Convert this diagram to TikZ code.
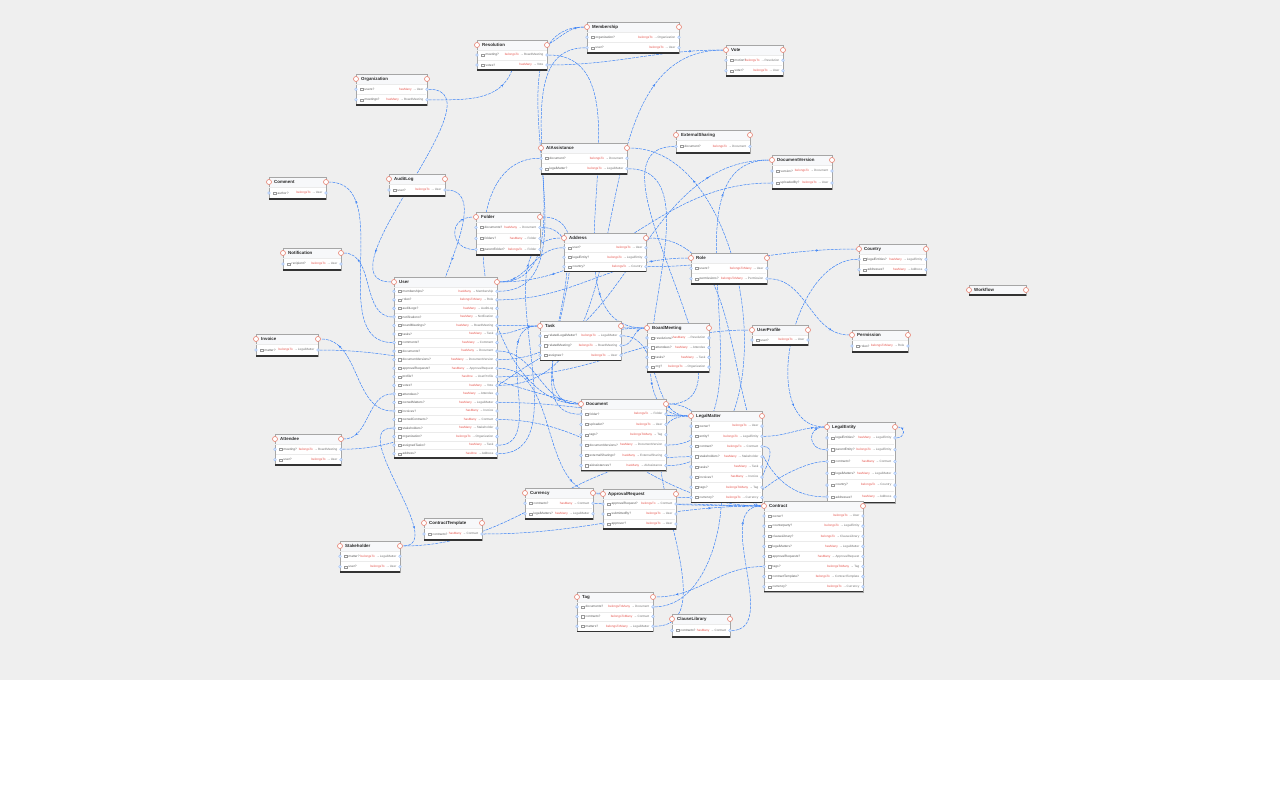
\documentclass[tikz,border=0pt]{standalone}
\usepackage{fontspec}
\setmainfont{Liberation Sans}
\usetikzlibrary{arrows.meta,decorations.markings}
\definecolor{bgray}{HTML}{EFEFEF}
\definecolor{edgeblue}{HTML}{3B82F6}
\definecolor{kindred}{HTML}{E5534B}
\definecolor{portred}{HTML}{E8806F}
\definecolor{headfill}{HTML}{F7F8FA}
\pgfdeclarelayer{bg}\pgfdeclarelayer{edges}
\pgfsetlayers{bg,edges,main}
\tikzset{
 tport/.style={circle,draw=portred,fill=white,line width=0.6pt,inner sep=0pt,minimum size=5pt},
 fport/.style={circle,draw=edgeblue!55,fill=edgeblue!12,line width=0.4pt,inner sep=0pt,minimum size=2.8pt},
 sepl/.style={draw=black!8,line width=0.3pt},
 chk/.style={draw=black!40,line width=0.25pt},
 ftext/.style={font=\fontsize{3.2}{3.6}\selectfont,text=black!65,inner sep=0pt},
 ttext/.style={font=\fontsize{3.1}{3.6}\selectfont,text=black!55,inner sep=0pt},
 ttl/.style={font=\fontsize{4.4}{5}\selectfont\bfseries,text=black!85,inner sep=0pt},
 boxline/.style={draw=black!35,line width=0.5pt},
 botline/.style={draw=black!80,line width=1.1pt},
 rel/.style={draw=edgeblue,line width=0.5pt,dash pattern=on 3pt off 1pt,
   postaction={decorate},decoration={markings,mark=at position 0.82 with {\arrow[solid]{Stealth[length=2.6pt,width=2.4pt]}}}},
 RL/.style={out=0,in=180},RR/.style={out=0,in=0},LL/.style={out=180,in=180},LR/.style={out=180,in=0},
}
% #1 id, #2 x, #3 y, #4 w, #5 n rows, #6 row height, #7 rows
\newcommand{\ent}[7]{%
 \pgfmathsetmacro{\eH}{10+#5*#6}%
 \fill[white] (#2,#3) rectangle ++(#4,\eH);%
 \fill[headfill] (#2,#3) rectangle ++(#4,10);%
 \draw[boxline] (#2,#3) rectangle ++(#4,\eH);%
 \draw[sepl] ({#2},{#3+10}) -- ++(#4,0);%
 \ifnum#5>0
 \foreach \ef/\ek/\et [count=\ei] in {#7} {%
   \pgfmathsetmacro{\ry}{#3+10+(\ei-0.5)*#6}%
   \ifnum\ei>1 \draw[sepl] ({#2+1},{\ry-#6/2}) -- ++({#4-2},0);\fi
   \node[fport] (#1-\ei-L) at ({#2},{\ry}) {};%
   \node[fport] (#1-\ei-R) at ({#2+#4},{\ry}) {};%
   \draw[chk] ({#2+4.5},{\ry-1.1}) rectangle ++(2.2,2.2);%
   \node[ftext,anchor=west] at ({#2+8.5},{\ry}) {\ef};%
   \node[ttext,anchor=east] at ({#2+#4-3.5},{\ry}) {\textcolor{kindred}{\ek}\hspace{1.5pt}→\,\et};%
 }%
 \fi
 \draw[botline] ({#2},{#3+\eH}) -- ++(#4,0);%
 \node[tport] (#1-L) at ({#2},{#3+5}) {};%
 \node[tport] (#1-R) at ({#2+#4},{#3+5}) {};%
 \node[ttl,anchor=west] at ({#2+5},{#3+5}) {#1};%
 \coordinate (#1-B) at ({#2+#4/2},{#3+\eH});%
 \coordinate (#1-N) at ({#2+#4/2},{#3});%
}
\begin{document}
\begin{tikzpicture}[x=1pt,y=-1pt]
\useasboundingbox (0,0) rectangle (1280,800);
\begin{pgfonlayer}{bg}
\fill[white] (0,0) rectangle (1280,800);
\fill[bgray] (0,0) rectangle (1280,680);
\end{pgfonlayer}

\ent{Organization}{356}{74}{71}{2}{10.5}{users?/hasMany/User, meetings?/hasMany/BoardMeeting}
\ent{Resolution}{477}{40}{70}{2}{10}{meeting?/belongsTo/BoardMeeting, votes?/hasMany/Vote}
\ent{Membership}{587}{22}{92}{2}{10.5}{organization?/belongsTo/Organization, user?/belongsTo/User}
\ent{Vote}{726}{45}{57}{2}{10.5}{motion?/belongsTo/Resolution, voter?/belongsTo/User}
\ent{Comment}{269}{177}{57}{1}{12}{author?/belongsTo/User}
\ent{AuditLog}{389}{174}{56}{1}{12}{user?/belongsTo/User}
\ent{Notification}{283}{248}{58}{1}{12}{recipient?/belongsTo/User}
\ent{AIAssistance}{541}{143}{86}{2}{10.5}{document?/belongsTo/Document, legalMatter?/belongsTo/LegalMatter}
\ent{ExternalSharing}{676}{130}{74}{1}{13}{document?/belongsTo/Document}
\ent{DocumentVersion}{772}{155}{60}{2}{12}{version?/belongsTo/Document, uploadedBy?/belongsTo/User}
\ent{Folder}{476}{212}{64}{3}{11}{documents?/hasMany/Document, folders?/hasMany/Folder, parentFolder?/belongsTo/Folder}
\ent{Address}{564}{233}{82}{3}{9.5}{user?/belongsTo/User, legalEntity?/belongsTo/LegalEntity, country?/belongsTo/Country}
\ent{Role}{691}{253}{76}{2}{10.5}{users?/belongsToMany/User, permissions?/belongsToMany/Permission}
\ent{Country}{859}{244}{67}{2}{10.5}{legalEntities?/hasMany/LegalEntity, addresses?/hasMany/Address}
\ent{Workflow}{969}{285}{57}{0}{0}{}
\ent{User}{394}{277}{103}{20}{8.55}{memberships?/hasMany/Membership, roles?/belongsToMany/Role, auditLogs?/hasMany/AuditLog, notifications?/hasMany/Notification, boardMeetings?/hasMany/BoardMeeting, tasks?/hasMany/Task, comments?/hasMany/Comment, documents?/hasMany/Document, documentVersions?/hasMany/DocumentVersion, approvalRequests?/hasMany/ApprovalRequest, profile?/hasOne/UserProfile, votes?/hasMany/Vote, attendees?/hasMany/Attendee, ownedMatters?/hasMany/LegalMatter, invoices?/hasMany/Invoice, ownedContracts?/hasMany/Contract, stakeholders?/hasMany/Stakeholder, organization?/belongsTo/Organization, assignedTasks?/hasMany/Task, address?/hasOne/Address}
\ent{Task}{540}{321}{81}{3}{9.7}{relatedLegalMatter?/belongsTo/LegalMatter, relatedMeeting?/belongsTo/BoardMeeting, assignee?/belongsTo/User}
\ent{BoardMeeting}{647}{323}{62}{4}{9.75}{resolutions?/hasMany/Resolution, attendees?/hasMany/Attendee, tasks?/hasMany/Task, org?/belongsTo/Organization}
\ent{UserProfile}{752}{325}{56}{1}{10}{user?/belongsTo/User}
\ent{Permission}{852}{330}{56}{1}{12}{roles?/belongsToMany/Role}
\ent{Invoice}{256}{334}{62}{1}{12}{matter?/belongsTo/LegalMatter}
\ent{Document}{581}{399}{85}{6}{10.3}{folder?/belongsTo/Folder, uploader?/belongsTo/User, tags?/belongsToMany/Tag, documentVersions?/hasMany/DocumentVersion, externalSharings?/hasMany/ExternalSharing, aiAssistances?/hasMany/AIAssistance}
\ent{LegalMatter}{691}{411}{71}{8}{10.2}{owner?/belongsTo/User, entity?/belongsTo/LegalEntity, contract?/belongsTo/Contract, stakeholders?/hasMany/Stakeholder, tasks?/hasMany/Task, invoices?/hasMany/Invoice, tags?/belongsToMany/Tag, currency?/belongsTo/Currency}
\ent{LegalEntity}{827}{422}{68}{6}{11.8}{legalEntities?/hasMany/LegalEntity, parentEntity?/belongsTo/LegalEntity, contracts?/hasMany/Contract, legalMatters?/hasMany/LegalMatter, country?/belongsTo/Country, addresses?/hasMany/Address}
\ent{Attendee}{275}{434}{66}{2}{10.5}{meeting?/belongsTo/BoardMeeting, user?/belongsTo/User}
\ent{Currency}{525}{488}{68}{2}{10.5}{contracts?/hasMany/Contract, legalMatters?/hasMany/LegalMatter}
\ent{ApprovalRequest}{603}{489}{73}{3}{10}{approvalRequest?/belongsTo/Contract, submittedBy?/belongsTo/User, approver?/belongsTo/User}
\ent{ContractTemplate}{424}{518}{58}{1}{12}{contracts?/hasMany/Contract}
\ent{Stakeholder}{340}{541}{60}{2}{10.5}{matter?/belongsTo/LegalMatter, user?/belongsTo/User}
\ent{Contract}{764}{501}{99}{8}{10.1}{owner?/belongsTo/User, counterparty?/belongsTo/LegalEntity, clauseLibrary?/belongsTo/ClauseLibrary, legalMatters?/hasMany/LegalMatter, approvalRequests?/hasMany/ApprovalRequest, tags?/belongsToMany/Tag, contractTemplate?/belongsTo/ContractTemplate, currency?/belongsTo/Currency}
\ent{Tag}{577}{592}{76}{3}{9.7}{documents?/belongsToMany/Document, contracts?/belongsToMany/Contract, matters?/belongsToMany/LegalMatter}
\ent{ClauseLibrary}{672}{614}{58}{1}{13}{contracts?/hasMany/Contract}

\begin{pgfonlayer}{edges}
\draw[rel] (Resolution-R) to[out=30,in=180] (Membership-L);
\draw[rel] (Resolution-1-R) to[RL] (BoardMeeting-L);
\draw[rel] (Resolution-2-R) to[RL] (Vote-L);
\draw[rel] (Organization-2-R) to[out=0,in=-110] (Resolution-B);
\draw[rel] (Organization-1-R) to[RL] (User-L);
\draw[rel] (Membership-2-L) to[LR] (User-R);
\draw[rel] (AuditLog-1-R) to[out=0,in=70] (User-N);
\draw[rel] (User-1-R) to[RL] (Membership-L);
\draw[rel] (User-2-R) to[RL] (Role-L);
\draw[rel] (User-4-L) to[LR] (Notification-R);
\draw[rel] (User-5-R) to[RL] (BoardMeeting-L);
\draw[rel] (User-6-R) to[RL] (Task-L);
\draw[rel] (User-7-L) to[LR] (Comment-R);
\draw[rel] (User-8-R) to[RL] (Document-L);
\draw[rel] (User-9-R) to[RL] (DocumentVersion-L);
\draw[rel] (User-10-R) to[RL] (ApprovalRequest-L);
\draw[rel] (User-11-R) to[RL] (UserProfile-L);
\draw[rel] (User-12-R) to[RL] (Vote-L);
\draw[rel] (User-13-L) to[LR] (Attendee-R);
\draw[rel] (User-14-R) to[RL] (LegalMatter-L);
\draw[rel] (User-15-L) to[LR] (Invoice-R);
\draw[rel] (User-16-R) to[RL] (Contract-L);
\draw[rel] (User-17-L) to[LR] (Stakeholder-R);
\draw[rel] (User-19-R) to[RL] (Task-L);
\draw[rel] (User-20-R) to[RL] (Address-L);
\draw[rel] (AIAssistance-1-L) to[LL] (Document-L);
\draw[rel] (AIAssistance-2-R) to[RL] (LegalMatter-L);
\draw[rel] (Document-6-R) to[RR] (AIAssistance-R);
\draw[rel] (ExternalSharing-1-L) to[LR] (Document-R);
\draw[rel] (Document-4-R) to[RL] (DocumentVersion-L);
\draw[rel] (DocumentVersion-2-L) to[LR] (User-R);
\draw[rel] (Folder-1-R) to[RL] (Document-L);
\draw[rel] (Document-1-L) to[LR] (Folder-R);
\draw[rel] (Folder-3-L) to[LL,looseness=2] (Folder-L);
\draw[rel] (Address-1-L) to[LR] (User-R);
\draw[rel] (Address-3-R) to[RL] (Country-L);
\draw[rel] (Role-2-R) to[RL] (Permission-L);
\draw[rel] (Country-1-L) to[LL] (LegalEntity-L);
\draw[rel] (Task-1-R) to[RL] (LegalMatter-L);
\draw[rel] (Task-2-R) to[RL] (BoardMeeting-L);
\draw[rel] (Invoice-1-R) to[RL] (LegalMatter-L);
\draw[rel] (Tag-1-R) to[RR] (Document-R);
\draw[rel] (LegalMatter-2-R) to[RL] (LegalEntity-L);
\draw[rel] (LegalMatter-3-R) to[RL] (Contract-L);
\draw[rel] (LegalMatter-4-L) to[LR] (Stakeholder-R);
\draw[rel] (LegalMatter-8-L) to[LR] (Currency-R);
\draw[rel] (LegalEntity-1-R) to[RR,looseness=2] (LegalEntity-R);
\draw[rel] (LegalEntity-2-L) to[LL,looseness=2] (LegalEntity-L);
\draw[rel] (LegalEntity-3-L) to[LL] (Contract-L);
\draw[rel] (LegalEntity-6-L) to[LR] (Address-R);
\draw[rel] (Attendee-1-R) to[RL] (BoardMeeting-L);
\draw[rel] (Currency-1-R) to[RL] (Contract-L);
\draw[rel] (ApprovalRequest-1-R) to[RL] (Contract-L);
\draw[rel] (ContractTemplate-1-R) to[RL] (Contract-L);
\draw[rel] (Contract-6-L) to[LR] (Tag-R);
\draw[rel] (Tag-3-R) to[RL] (LegalMatter-L);
\draw[rel] (ClauseLibrary-1-R) to[RL] (Contract-L);
\end{pgfonlayer}
\end{tikzpicture}
\end{document}
